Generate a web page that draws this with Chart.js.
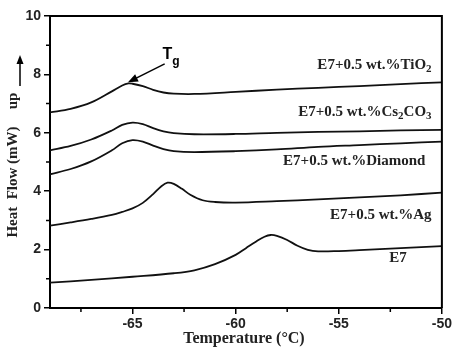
<!DOCTYPE html>
<html><head><meta charset="utf-8">
<script src="https://cdn.jsdelivr.net/npm/chart.js@4.4.1/dist/chart.umd.min.js"></script>
<style>html,body{margin:0;padding:0;background:#fff}canvas{display:block}</style>
</head><body>
<canvas id="c" width="454" height="348"></canvas>
<script>
// ---- data ----
const tiO2T = [-69,-68,-67,-66,-65.5,-65.2,-65,-64.5,-64,-63.5,-63,-62,-60,-58,-56,-54,-52,-50];
const tiO2Y = [6.70,6.82,7.04,7.42,7.62,7.69,7.68,7.60,7.47,7.38,7.34,7.33,7.40,7.48,7.54,7.60,7.67,7.73];
const csT = [-69,-68,-67,-66,-65.5,-65,-64.5,-64,-63.5,-63,-62,-60,-58,-56,-54,-52,-50];
const csY = [5.40,5.55,5.77,6.08,6.27,6.35,6.30,6.16,6.05,5.99,5.95,5.96,6.00,6.03,6.05,6.08,6.10];
const diaT = [-69,-68,-67,-66,-65.5,-65,-64.5,-64,-63.5,-63,-62,-60,-58,-56,-54,-52,-50];
const diaY = [4.58,4.76,5.02,5.40,5.64,5.75,5.70,5.56,5.44,5.37,5.34,5.37,5.43,5.52,5.58,5.64,5.70];
const agT = [-69,-68,-67,-66,-65.5,-65,-64.5,-64,-63.6,-63.3,-63,-62.6,-62.2,-61.6,-61,-60,-58,-56,-54,-52,-50];
const agY = [2.82,2.93,3.05,3.19,3.29,3.41,3.60,3.90,4.17,4.29,4.25,4.08,3.88,3.69,3.63,3.61,3.66,3.72,3.79,3.86,3.95];
const e7T = [-69,-67,-65,-63,-62,-61,-60,-59.5,-59,-58.6,-58.3,-58,-57.5,-57,-56.5,-56,-55,-54,-52,-50];
const e7Y = [0.87,0.96,1.07,1.19,1.29,1.50,1.82,2.05,2.28,2.44,2.50,2.47,2.33,2.13,1.99,1.94,1.95,1.98,2.05,2.12];
const xMajorTicks = [-65,-60,-55,-50];
const xMinorTicks = [-67.5,-62.5,-57.5,-52.5];
const yMajorTicks = [0,2,4,6,8,10];
const yMinorTicks = [1,3,5,7,9];
const seriesLabels = [
  {parts:[['E7+0.5 wt.%TiO',0],['2',1]], x:-50.5, y:8.32},
  {parts:[['E7+0.5 wt.%Cs',0],['2',1],['CO',0],['3',1]], x:-50.5, y:6.71},
  {parts:[['E7+0.5 wt.%Diamond',0]], x:-50.8, y:5.03},
  {parts:[['E7+0.5 wt.%Ag',0]], x:-50.5, y:3.18},
  {parts:[['E7',0]], x:-51.7, y:1.71}
];
const tgLabel = {x:-63.55, y:8.62};
const tgArrow = {fromX:-63.44, fromY:8.36, toX:-65.22, toY:7.73};

const mk = (T,Y)=>T.map((t,i)=>({x:t,y:Y[i]}));
const ds = (T,Y)=>({data:mk(T,Y), borderColor:'#111', borderWidth:1.8, pointRadius:0, fill:false, tension:0.35});

const serif = '"Liberation Serif","Times New Roman",serif';
const sans = '"Liberation Sans",Arial,sans-serif';

function drawParts(ctx, parts, xRight, yc, size){
  let w=0;
  const subSize = Math.round(size*0.72);
  parts.forEach(p=>{ctx.font='bold '+(p[1]?subSize:size)+'px '+serif; w+=ctx.measureText(p[0]).width;});
  let x = xRight - w;
  ctx.textBaseline='middle'; ctx.textAlign='left';
  parts.forEach(p=>{
    ctx.font='bold '+(p[1]?subSize:size)+'px '+serif;
    ctx.fillText(p[0], x, yc + (p[1]?4:0));
    x += ctx.measureText(p[0]).width;
  });
}

const deco = {
  id:'deco',
  afterDraw(chart){
    const ctx=chart.ctx, a=chart.chartArea, xs=chart.scales.x, ys=chart.scales.y;
    ctx.save();
    ctx.strokeStyle='#000'; ctx.fillStyle='#000';
    ctx.lineWidth=2;
    ctx.beginPath();
    ctx.moveTo(a.left,a.top); ctx.lineTo(a.right,a.top); ctx.lineTo(a.right,a.bottom);
    ctx.stroke();
    ctx.lineWidth=1.5;
    ctx.beginPath();
    xMinorTicks.forEach(v=>{const p=xs.getPixelForValue(v); ctx.moveTo(p,a.bottom); ctx.lineTo(p,a.bottom+4);});
    yMinorTicks.forEach(v=>{const p=ys.getPixelForValue(v); ctx.moveTo(a.left,p); ctx.lineTo(a.left-4,p);});
    ctx.stroke();
    ctx.fillStyle='#222';
    seriesLabels.forEach(l=>drawParts(ctx,l.parts,xs.getPixelForValue(l.x),ys.getPixelForValue(l.y),15));
    ctx.fillStyle='#000';
    ctx.textBaseline='middle'; ctx.textAlign='left';
    const tx=xs.getPixelForValue(tgLabel.x), ty=ys.getPixelForValue(tgLabel.y);
    ctx.font='bold 16px '+sans; ctx.fillText('T',tx,ty-2);
    const tw=ctx.measureText('T').width;
    ctx.font='bold 12px '+sans; ctx.fillText('g',tx+tw,ty+5);
    const x1=xs.getPixelForValue(tgArrow.fromX), y1=ys.getPixelForValue(tgArrow.fromY);
    const x2=xs.getPixelForValue(tgArrow.toX), y2=ys.getPixelForValue(tgArrow.toY);
    const ang=Math.atan2(y2-y1,x2-x1);
    ctx.lineWidth=1.5;
    ctx.beginPath(); ctx.moveTo(x1,y1); ctx.lineTo(x2-7*Math.cos(ang),y2-7*Math.sin(ang)); ctx.stroke();
    ctx.beginPath();
    ctx.moveTo(x2,y2);
    ctx.lineTo(x2-10*Math.cos(ang)+4*Math.sin(ang), y2-10*Math.sin(ang)-4*Math.cos(ang));
    ctx.lineTo(x2-10*Math.cos(ang)-4*Math.sin(ang), y2-10*Math.sin(ang)+4*Math.cos(ang));
    ctx.closePath(); ctx.fill();
    ctx.fillStyle='#222';
    ctx.font='bold 16px '+serif; ctx.textAlign='center'; ctx.textBaseline='middle';
    ctx.fillText('Temperature (\u00B0C)', (a.left+a.right)/2-2, 339);
    ctx.font='bold 15px '+serif;
    ctx.save();
    ctx.translate(13, 182); ctx.rotate(-Math.PI/2);
    ctx.fillText('Heat  Flow (mW)', 0, 0);
    ctx.restore();
    ctx.save();
    ctx.translate(13, 101); ctx.rotate(-Math.PI/2);
    ctx.fillText('up', 0, 0);
    ctx.restore();
    ctx.fillStyle='#000';
    ctx.lineWidth=1.5;
    ctx.beginPath(); ctx.moveTo(20,86); ctx.lineTo(20,62); ctx.stroke();
    ctx.beginPath(); ctx.moveTo(20,55); ctx.lineTo(16.5,64); ctx.lineTo(23.5,64); ctx.closePath(); ctx.fill();
    ctx.restore();
  }
};

new Chart(document.getElementById('c'), {
  type:'line',
  data:{datasets:[ds(tiO2T,tiO2Y),ds(csT,csY),ds(diaT,diaY),ds(agT,agY),ds(e7T,e7Y)]},
  options:{
    responsive:false, animation:false, devicePixelRatio:1,
    layout:{padding:{top:16,right:10,left:0,bottom:0}},
    plugins:{legend:{display:false},tooltip:{enabled:false}},
    scales:{
      x:{type:'linear',min:-69,max:-50,
        afterBuildTicks:s=>{s.ticks=xMajorTicks.map(v=>({value:v}));},
        afterFit:s=>{s.height=40;},
        grid:{display:true,drawOnChartArea:false,drawTicks:true,tickLength:6,color:'#000',lineWidth:1.5},
        border:{display:true,color:'#000',width:2},
        ticks:{color:'#222',font:{family:sans,size:14,weight:'bold'},padding:2,maxRotation:0}
      },
      y:{type:'linear',min:0,max:10,
        afterBuildTicks:s=>{s.ticks=yMajorTicks.map(v=>({value:v}));},
        afterFit:s=>{s.width=50;},
        grid:{display:true,drawOnChartArea:false,drawTicks:true,tickLength:6,color:'#000',lineWidth:1.5},
        border:{display:true,color:'#000',width:2},
        ticks:{color:'#222',font:{family:sans,size:14,weight:'bold'},padding:3}
      }
    }
  },
  plugins:[deco]
});
</script>
</body></html>
